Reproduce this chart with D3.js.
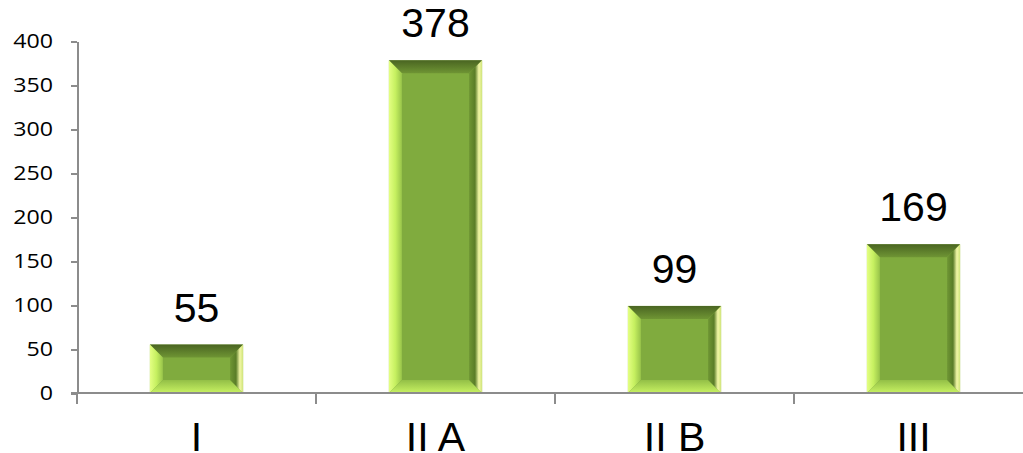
<!DOCTYPE html>
<html>
<head>
<meta charset="utf-8">
<script src="https://cdn.jsdelivr.net/npm/d3@7"></script>
<style>
  body { margin: 0; background: #fff; }
  svg { display: block; }
  .axis path, .axis line { stroke: #8c8c8c; stroke-width: 2; shape-rendering: crispEdges; }
</style>
</head>
<body>
<svg width="1023" height="453"></svg>
<script>
var categories = ["I", "II A", "II B", "III"];
var values = [55, 378, 99, 169];
var yTicks = [0, 50, 100, 150, 200, 250, 300, 350, 400];

var svg = d3.select("svg");

var x = d3.scaleBand()
    .domain(categories)
    .range([77, 1033]);

var y = d3.scaleLinear()
    .domain([0, 400])
    .range([393, 41]);

var barWidth = x.bandwidth() * 0.39;
var bevel = 13;

var defs = svg.append("defs");

function grad(id, x2, y2, stops) {
    var g = defs.append("linearGradient")
        .attr("id", id)
        .attr("x1", 0).attr("y1", 0)
        .attr("x2", x2).attr("y2", y2);
    stops.forEach(function (s) {
        g.append("stop").attr("offset", s[0]).attr("stop-color", s[1]);
    });
}

grad("gTop", 0, 1, [[0, "#4a6522"], [1, "#6f9534"]]);
grad("gLeft", 1, 0, [[0, "#e4ff84"], [0.5, "#c6f060"], [1, "#98c44a"]]);
grad("gBottom", 0, 1, [[0, "#93bf47"], [1, "#c8f262"]]);
grad("gRight", 1, 0, [[0, "#6f9634"], [0.45, "#5a7d28"], [0.75, "#f2f7a6"], [1, "#cfe47a"]]);

// y axis
var yAxis = svg.append("g")
    .attr("class", "axis")
    .attr("transform", "translate(77,0)")
    .call(d3.axisLeft(y).tickValues(yTicks).tickSize(6).tickPadding(18).tickSizeOuter(0));

yAxis.selectAll("text")
    .attr("font-family", "'Open Sans', sans-serif")
    .attr("font-size", 20)
    .attr("fill", "#000")
    .attr("transform", "scale(1.16,1)")
    .attr("x", -24 / 1.16);

// x axis
var xAxis = svg.append("g")
    .attr("class", "axis")
    .attr("transform", "translate(0," + y(0) + ")");

xAxis.append("line")
    .attr("x1", 71).attr("x2", 1033)
    .attr("y1", 0).attr("y2", 0);

xAxis.selectAll(".tk")
    .data(categories)
    .enter().append("line")
    .attr("class", "tk")
    .attr("x1", function (d) { return x(d); })
    .attr("x2", function (d) { return x(d); })
    .attr("y1", 0).attr("y2", 11);

xAxis.selectAll(".cat")
    .data(categories)
    .enter().append("text")
    .attr("class", "cat")
    .attr("x", function (d) { return x(d) + x.bandwidth() / 2; })
    .attr("y", 451 - y(0))
    .attr("text-anchor", "middle")
    .attr("font-family", "'Liberation Sans', Arial, sans-serif")
    .attr("font-size", 41)
    .attr("fill", "#000")
    .text(function (d) { return d; });

// bars
var bars = svg.selectAll(".bar")
    .data(categories.map(function (c, i) { return { cat: c, value: values[i] }; }))
    .enter().append("g")
    .attr("class", "bar");

function pts(a) {
    return a.map(function (p) { return p.join(","); }).join(" ");
}

bars.each(function (d) {
    var g = d3.select(this);
    var x0 = x(d.cat) + (x.bandwidth() - barWidth) / 2;
    var x1 = x0 + barWidth;
    var y0 = y(d.value);
    var y1 = y(0);
    var b = Math.min(bevel, (y1 - y0) / 2);

    g.append("rect")
        .attr("x", x0).attr("y", y0)
        .attr("width", barWidth).attr("height", y1 - y0)
        .attr("fill", "#80ab3e");

    g.append("polygon")
        .attr("points", pts([[x0, y0], [x1, y0], [x1 - b, y0 + b], [x0 + b, y0 + b]]))
        .attr("fill", "url(#gTop)");
    g.append("polygon")
        .attr("points", pts([[x0, y0], [x0 + b, y0 + b], [x0 + b, y1 - b], [x0, y1]]))
        .attr("fill", "url(#gLeft)");
    g.append("polygon")
        .attr("points", pts([[x0, y1], [x0 + b, y1 - b], [x1 - b, y1 - b], [x1, y1]]))
        .attr("fill", "url(#gBottom)");
    g.append("polygon")
        .attr("points", pts([[x1, y0], [x1, y1], [x1 - b, y1 - b], [x1 - b, y0 + b]]))
        .attr("fill", "url(#gRight)");
});

// value labels
svg.selectAll(".val")
    .data(values)
    .enter().append("text")
    .attr("class", "val")
    .attr("x", function (d, i) { return x(categories[i]) + x.bandwidth() / 2; })
    .attr("y", function (d) { return y(d) - 23; })
    .attr("text-anchor", "middle")
    .attr("font-family", "'Liberation Sans', Arial, sans-serif")
    .attr("font-size", 41)
    .attr("fill", "#000")
    .text(function (d) { return d; });

// redraw baseline over bars
svg.append("line")
    .attr("x1", 71).attr("x2", 1033)
    .attr("y1", y(0)).attr("y2", y(0))
    .attr("stroke", "#8c8c8c")
    .attr("stroke-width", 2)
    .attr("shape-rendering", "crispEdges");
</script>
</body>
</html>
